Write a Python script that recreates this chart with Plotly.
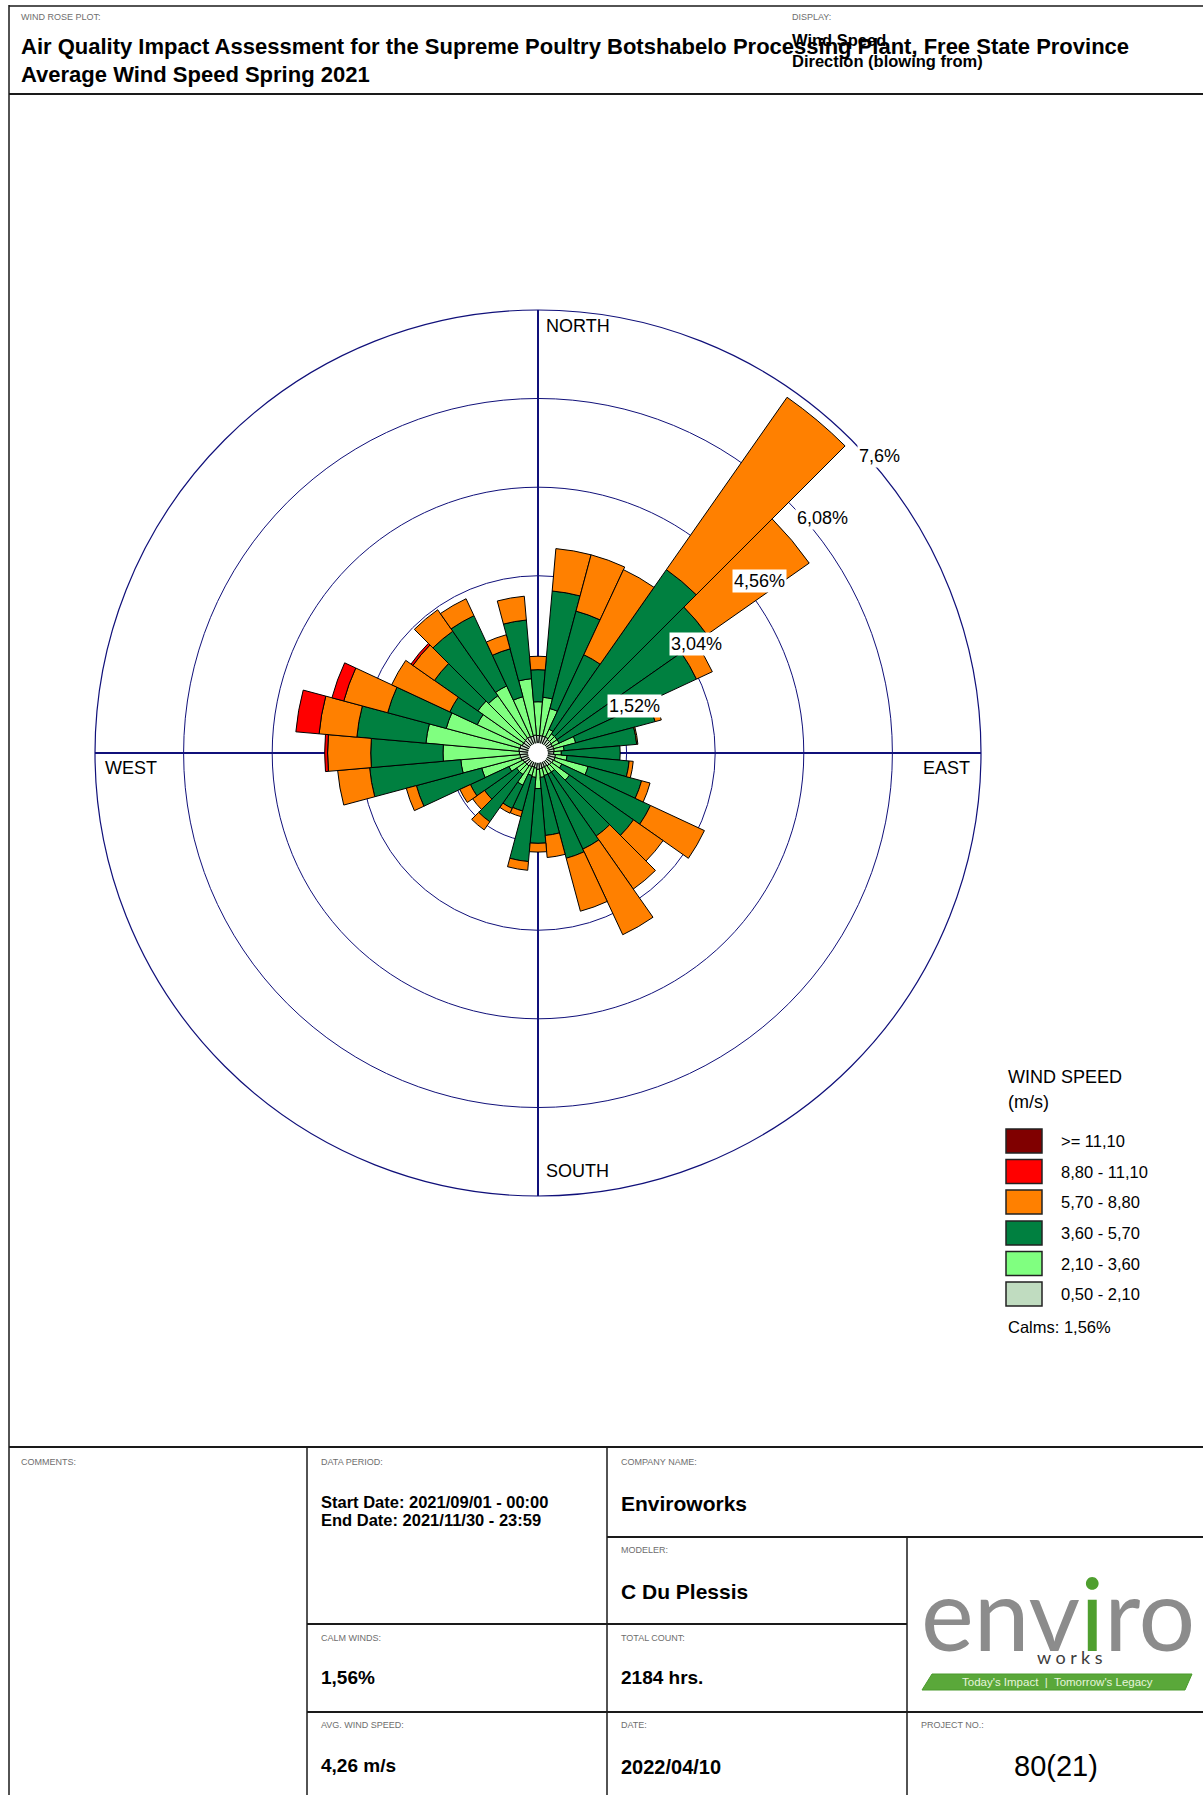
import plotly.graph_objects as go

W, H = 1203, 1795

# ---------------------------------------------------------------- data
directions = list(range(0, 360, 10))   # bearing the wind blows from (deg)

# frequency (%) per speed class and direction
spd_050_210 = [0.30, 0.30, 0.30, 0.30, 0.28, 0.28, 0.27, 0.28, 0.28, 0.27,
               0.30, 0.30, 0.29, 0.28, 0.27, 0.26, 0.26, 0.27, 0.28, 0.26,
               0.25, 0.26, 0.27, 0.27, 0.28, 0.30, 0.31, 0.32, 0.33, 0.32,
               0.30, 0.30, 0.31, 0.31, 0.30, 0.31]
spd_210_360 = [0.58, 0.66, 0.49, 0.15, 0.12, 0.12, 0.13, 0.39, 0.17, 0.13,
               0.20, 0.59, 0.16, 0.38, 0.13, 0.14, 0.14, 0.15, 0.33, 0.16,
               0.15, 0.35, 0.18, 0.18, 0.27, 0.70, 1.02, 1.31, 1.60, 1.31,
               0.85, 0.96, 0.89, 0.96, 0.70, 0.97]
spd_360_570 = [0.55, 1.83, 1.73, 1.41, 3.44, 3.14, 2.60, 1.41, 1.25, 1.01,
               1.07, 0.95, 1.68, 1.34, 1.34, 1.42, 1.47, 1.00, 0.94, 1.45,
               0.63, 0.44, 0.99, 0.67, 0.73, 1.16, 1.57, 1.24, 1.19, 1.04,
               0.52, 0.91, 1.35, 1.33, 0.85, 1.01]
spd_570_880 = [0.23, 0.73, 1.00, 1.61, 3.61, 2.14, 0.30, 0.11, 0.02, 0.00,
               0.07, 0.15, 1.02, 0.62, 1.11, 1.62, 0.94, 0.38, 0.15, 0.15,
               0.10, 0.09, 0.17, 0.25, 0.20, 0.18, 0.55, 0.74, 0.65, 0.78,
               1.10, 0.45, 0.45, 0.32, 0.25, 0.41]
spd_880_1110 = [0, 0, 0, 0, 0, 0, 0, 0, 0, 0,
                0, 0, 0, 0, 0, 0, 0, 0, 0, 0,
                0, 0, 0, 0, 0, 0, 0, 0.05, 0.40, 0.21,
                0, 0.04, 0, 0, 0, 0]
spd_1110_up = [0] * 36

class_labels = ["0,50 - 2,10", "2,10 - 3,60", "3,60 - 5,70",
                "5,70 - 8,80", "8,80 - 11,10", ">= 11,10"]
class_colors = ["#c0dcc0", "#80ff80", "#008040",
                "#ff8000", "#ff0000", "#800000"]
class_values = [spd_050_210, spd_210_360, spd_360_570,
                spd_570_880, spd_880_1110, spd_1110_up]

ring_values = [1.52, 3.04, 4.56, 6.08, 7.6]
ring_labels = ["1,52%", "3,04%", "4,56%", "6,08%", "7,6%"]
calms_text = "Calms: 1,56%"

# ---------------------------------------------------------------- helpers
def X(px):
    return px / W


def Y(py):
    return 1 - py / H


NAVY = "#10107a"
FONT = "Liberation Sans, Arial, sans-serif"
NARROW = "Liberation Sans Narrow, Liberation Sans, Arial, sans-serif"

# rose geometry (pixels)
CX, CY, R = 538, 753, 443

fig = go.Figure()

for vals, name, col in zip(class_values, class_labels, class_colors):
    fig.add_trace(go.Barpolar(
        r=vals, theta=directions, width=[10] * len(directions), name=name,
        marker=dict(color=col, line=dict(color="#000000", width=1)),
        showlegend=False,
    ))

shapes = []
annotations = []


def line(x0, y0, x1, y1, w=1.5, c="#1a1a1a"):
    shapes.append(dict(type="line", xref="paper", yref="paper",
                       x0=X(x0), y0=Y(y0), x1=X(x1), y1=Y(y1),
                       line=dict(color=c, width=w)))


def text(x, y, s, size, family=FONT, color="#000000", anchor="left",
         bold=False, bg=None):
    a = dict(xref="paper", yref="paper", x=X(x), y=Y(y), text=s,
             showarrow=False, xanchor=anchor, yanchor="middle",
             font=dict(family=family, size=size, color=color,
                       weight="bold" if bold else "normal"))
    if bg:
        a["bgcolor"] = bg
        a["borderpad"] = 1
    annotations.append(a)


# centre calm circle
shapes.append(dict(type="circle", xref="paper", yref="paper",
                   x0=X(CX - 10), x1=X(CX + 10), y0=Y(CY - 10), y1=Y(CY + 10),
                   fillcolor="#ffffff", line=dict(color="#ffffff", width=0)))

# ring percentage labels along the 45 degree diagonal
step = R / len(ring_values)
for k, lab in enumerate(ring_labels, start=1):
    px = CX + step * k * 0.7071
    py = CY - step * k * 0.7071
    text(px + 6, py + 16, lab, 18, bg="#ffffff")

# compass labels
text(544, 326, "NORTH", 18)
text(544, 1171, "SOUTH", 18)
text(103, 768, "WEST", 18)
text(921, 768, "EAST", 18)

# ---------------------------------------------------------------- frame
line(9, 6, W + 2, 6, 1.5)
line(9, 5, 9, H + 2, 1.5)
line(9, 94, W + 2, 94, 2)
line(9, 1447, W + 2, 1447, 2)
line(307, 1447, 307, H + 2, 1.5)
line(607, 1447, 607, H + 2, 1.5)
line(907, 1537, 907, H + 2, 1.5)
line(607, 1537, W + 2, 1537, 2)
line(307, 1624, 907, 1624, 2)
line(307, 1712, W + 2, 1712, 2)

# header
SMALL = "#6e6e6e"
text(19, 17, "WIND ROSE PLOT:", 9, NARROW, SMALL)
text(790, 17, "DISPLAY:", 9, NARROW, SMALL)
text(19, 47, "Air Quality Impact Assessment for the Supreme Poultry Botshabelo "
     "Processing Plant, Free State Province", 22, bold=True)
text(19, 74, "Average Wind Speed Spring 2021", 22, bold=True)
text(790, 40, "Wind Speed", 16.5, NARROW, bold=True)
text(790, 61, "Direction (blowing from)", 16.5, NARROW, bold=True)

# legend
text(1006, 1077, "WIND SPEED", 18)
text(1006, 1102, "(m/s)", 18)
row_y = [1294, 1263.5, 1233, 1202, 1171.5, 1141]   # lowest class at the bottom
for yy, lab, col in zip(row_y, class_labels, class_colors):
    shapes.append(dict(type="rect", xref="paper", yref="paper",
                       x0=X(1006), x1=X(1042), y0=Y(yy - 12), y1=Y(yy + 12),
                       fillcolor=col, line=dict(color="#222222", width=1.5)))
    text(1059, yy, lab, 16.5)
text(1006, 1327, calms_text, 16.5)

# footer table
text(19, 1462, "COMMENTS:", 9, NARROW, SMALL)
text(319, 1462, "DATA PERIOD:", 9, NARROW, SMALL)
text(619, 1462, "COMPANY NAME:", 9, NARROW, SMALL)
text(619, 1550, "MODELER:", 9, NARROW, SMALL)
text(319, 1638, "CALM WINDS:", 9, NARROW, SMALL)
text(619, 1638, "TOTAL COUNT:", 9, NARROW, SMALL)
text(319, 1725, "AVG. WIND SPEED:", 9, NARROW, SMALL)
text(619, 1725, "DATE:", 9, NARROW, SMALL)
text(919, 1725, "PROJECT NO.:", 9, NARROW, SMALL)

text(319, 1502, "Start Date: 2021/09/01 - 00:00", 16.5, bold=True)
text(319, 1520, "End Date: 2021/11/30 - 23:59", 16.5, bold=True)
text(619, 1503, "Enviroworks", 21, bold=True)
text(619, 1591, "C Du Plessis", 21, bold=True)
text(319, 1677, "1,56%", 19, bold=True)
text(619, 1677, "2184 hrs.", 19, bold=True)
text(319, 1765, "4,26 m/s", 19, bold=True)
text(619, 1767, "2022/04/10", 20, bold=True)
text(1056, 1766, "80(21)", 29, anchor="center")

# company logo
text(1058, 1612, "env<span style='color:#4f9f2f'>i</span>ro", 100,
     "Lato, Open Sans, sans-serif", "#8c8c8c", anchor="center")
shapes.append(dict(type="path", xref="paper", yref="paper",
                   path=f"M {X(922)},{Y(1690)} L {X(932)},{Y(1674)} "
                        f"L {X(1192)},{Y(1674)} L {X(1185)},{Y(1690)} Z",
                   fillcolor="#5aa83a", line=dict(color="#4a9a2c", width=1)))
text(1070, 1657, "w o r k s", 18, "Lato, Open Sans, sans-serif", "#3c3c3c",
     anchor="center")
text(1057, 1682, "Today's Impact  |  Tomorrow's Legacy", 11.5, NARROW,
     "#e6f5da", anchor="center")

fig.update_layout(
    width=W, height=H,
    margin=dict(l=0, r=0, t=0, b=0),
    paper_bgcolor="#ffffff",
    plot_bgcolor="#ffffff",
    showlegend=False,
    shapes=shapes,
    annotations=annotations,
    polar=dict(
        domain=dict(x=[X(CX - R), X(CX + R)], y=[Y(CY + R), Y(CY - R)]),
        bgcolor="rgba(0,0,0,0)",
        barmode="stack",
        radialaxis=dict(range=[0, 7.6], tickvals=ring_values[:-1],
                        showticklabels=False, ticks="", showline=False,
                        gridcolor=NAVY, gridwidth=1.2, layer="below traces"),
        angularaxis=dict(rotation=90, direction="clockwise",
                         tickvals=[0, 90, 180, 270], showticklabels=False,
                         ticks="", gridcolor=NAVY, gridwidth=1.5,
                         showline=True, linecolor=NAVY, linewidth=1.2,
                         layer="below traces"),
    ),
)

fig.write_html("out.html", config={"displayModeBar": False})
